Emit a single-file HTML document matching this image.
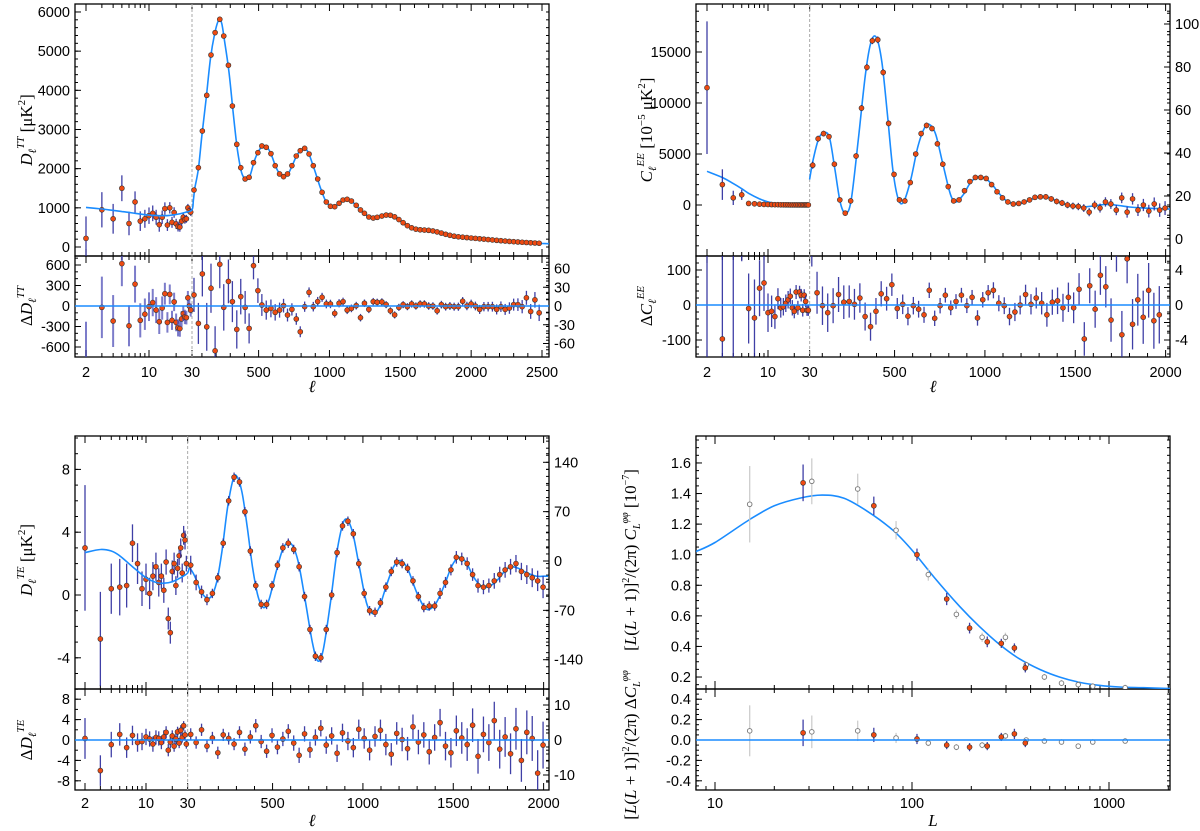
<!DOCTYPE html>
<html><head><meta charset="utf-8"><title>Planck power spectra</title>
<style>
html,body{margin:0;padding:0;background:#fff;}
svg{display:block;font-family:"Liberation Sans",sans-serif;}
.tl{font-size:14.5px;fill:#000;}
.ax{font-family:"Liberation Serif",serif;font-size:17px;fill:#000;}
</style></head>
<body>
<svg id="fig" xmlns="http://www.w3.org/2000/svg" width="1200" height="831" viewBox="0 0 1200 831">
<defs>
<clipPath id="cTTm"><rect x="75" y="4" width="474" height="252"/></clipPath>
<clipPath id="cTTr"><rect x="75" y="256" width="474" height="101"/></clipPath>
<clipPath id="cEEm"><rect x="696" y="4" width="474" height="252"/></clipPath>
<clipPath id="cEEr"><rect x="696" y="256" width="474" height="101"/></clipPath>
<clipPath id="cTEm"><rect x="75" y="436" width="474" height="253"/></clipPath>
<clipPath id="cTEr"><rect x="75" y="689" width="474" height="101"/></clipPath>
<clipPath id="cPPm"><rect x="696" y="436" width="474" height="253"/></clipPath>
<clipPath id="cPPr"><rect x="696" y="689" width="474" height="101"/></clipPath>
</defs>
<g>
<text class="ax" transform="translate(32,130) rotate(-90)" text-anchor="middle"><tspan font-style="italic">D</tspan><tspan font-size="11" dy="4" font-style="italic">ℓ</tspan><tspan font-size="11" dy="-12" font-style="italic">TT</tspan><tspan dy="8"> [μK</tspan><tspan font-size="11" dy="-7">2</tspan><tspan dy="7">]</tspan></text>
<text class="ax" transform="translate(32,306) rotate(-90)" text-anchor="middle">Δ<tspan font-style="italic">D</tspan><tspan font-size="11" dy="4" font-style="italic">ℓ</tspan><tspan font-size="11" dy="-12" font-style="italic">TT</tspan></text>
<text class="ax" x="312" y="392" text-anchor="middle" font-style="italic">ℓ</text>
<text class="ax" transform="translate(652,130) rotate(-90)" text-anchor="middle"><tspan font-style="italic">C</tspan><tspan font-size="11" dy="4" font-style="italic">ℓ</tspan><tspan font-size="11" dy="-12" font-style="italic">EE</tspan><tspan dy="8"> [10</tspan><tspan font-size="11" dy="-7">−5</tspan><tspan dy="7"> μK</tspan><tspan font-size="11" dy="-7">2</tspan><tspan dy="7">]</tspan></text>
<text class="ax" transform="translate(652,306) rotate(-90)" text-anchor="middle">Δ<tspan font-style="italic">C</tspan><tspan font-size="11" dy="4" font-style="italic">ℓ</tspan><tspan font-size="11" dy="-12" font-style="italic">EE</tspan></text>
<text class="ax" x="933" y="392" text-anchor="middle" font-style="italic">ℓ</text>
<text class="ax" transform="translate(32,560) rotate(-90)" text-anchor="middle"><tspan font-style="italic">D</tspan><tspan font-size="11" dy="4" font-style="italic">ℓ</tspan><tspan font-size="11" dy="-12" font-style="italic">TE</tspan><tspan dy="8"> [μK</tspan><tspan font-size="11" dy="-7">2</tspan><tspan dy="7">]</tspan></text>
<text class="ax" transform="translate(32,740) rotate(-90)" text-anchor="middle">Δ<tspan font-style="italic">D</tspan><tspan font-size="11" dy="4" font-style="italic">ℓ</tspan><tspan font-size="11" dy="-12" font-style="italic">TE</tspan></text>
<text class="ax" x="312" y="826" text-anchor="middle" font-style="italic">ℓ</text>
<text class="ax" font-size="15" transform="translate(636,560) rotate(-90)" text-anchor="middle">[<tspan font-style="italic">L</tspan>(<tspan font-style="italic">L</tspan> + 1)]<tspan font-size="10" dy="-7">2</tspan><tspan dy="7">/(2π) </tspan><tspan font-style="italic">C</tspan><tspan font-size="10" dy="4" font-style="italic">L</tspan><tspan font-size="10" dy="-12" font-style="italic">φφ</tspan><tspan dy="8"> [10</tspan><tspan font-size="10" dy="-7">−7</tspan><tspan dy="7">]</tspan></text>
<text class="ax" font-size="15" transform="translate(636,745) rotate(-90)" text-anchor="middle">[<tspan font-style="italic">L</tspan>(<tspan font-style="italic">L</tspan> + 1)]<tspan font-size="10" dy="-7">2</tspan><tspan dy="7">/(2π) Δ</tspan><tspan font-style="italic">C</tspan><tspan font-size="10" dy="4" font-style="italic">L</tspan><tspan font-size="10" dy="-12" font-style="italic">φφ</tspan></text>
<text class="ax" x="933" y="826" text-anchor="middle" font-style="italic">L</text>
</g>
</svg>
<script>
// ---------------- TT data ----------------
const ttLowL=[2,3,4,5,6,7,8,9,10,11,12,13,14,15,16,17,18,19,20,21,22,23,24,25,26,27,28,29];
const ttLowD=[220,950,720,1500,600,1150,660,720,800,860,760,570,760,980,560,1000,630,880,590,520,510,660,760,700,720,1000,920,890];
const ttLowErr=[560,450,380,330,300,270,250,230,210,200,190,180,170,160,150,145,140,135,130,125,120,115,110,105,100,100,95,95];
const ttLowRes=[-790,-20,-220,620,-290,320,-210,-120,-10,50,-60,-230,-30,180,-240,170,-210,60,-240,-320,-330,-190,-110,-160,-170,120,0,-60];
const ttHiL=[44,75,103,134,164,193,226,254,287,315,346,374,405,433,464,495,523,554,587,617,648,676,704,735,766,794,825,856,886,917,948,978,1007,1037,1068,1096,1125,1155,1189,1219,1247,1278,1309,1337,1370,1400,1430,1460,1490,1520,1550,1580,1610,1640,1670,1700,1730,1760,1790,1820,1850,1880,1910,1940,1970,2000,2030,2060,2090,2120,2150,2180,2210,2240,2270,2300,2330,2360,2390,2420,2450,2480];
const ttHiD=[1455,2025,2961,3872,4902,5472,5813,5387,4639,3600,2621,2025,1736,1779,2153,2408,2579,2545,2383,2076,1864,1796,1864,2076,2323,2459,2519,2374,2076,1736,1396,1149,1039,1029,1116,1200,1217,1174,1064,945,860,766,740,757,790,815,810,770,700,620,545,490,455,440,432,425,410,385,355,325,298,275,260,250,240,230,220,210,200,190,180,170,160,152,143,136,128,121,115,108,102,96];
const ttHiRes=[162,-255,470,-305,260,-656,610,-20,360,64,-343,137,-20,-328,590,225,15,-60,-35,-93,-60,5,-132,-50,-190,-377,-10,200,-10,65,127,30,30,-108,40,64,-60,-35,5,-171,40,-50,64,54,60,20,-70,-130,-20,20,-10,30,0,30,30,0,0,-70,20,-10,0,-10,-10,70,0,30,0,-50,-10,-10,-10,-50,-10,-50,-30,20,20,-10,120,-80,90,-100];
const ttHiErr=[250,300,330,350,360,360,350,340,320,300,280,260,240,220,200,180,160,140,130,120,110,100,95,90,85,80,75,72,70,68,66,64,62,60,60,58,58,56,56,55,55,54,54,53,53,52,52,52,52,52,52,53,53,54,54,55,55,56,56,57,58,59,60,61,62,63,64,66,68,70,72,74,77,80,84,88,92,97,102,108,114,120];
const ttThL=[2,3,4,5,7,10,15,20,25,30,40,50,75,100,130,160,190,220,240,260,290,320,350,380,410,440,470,500,530,555,585,620,650,680,710,740,770,800,825,850,880,910,940,970,1000,1030,1060,1090,1120,1150,1180,1210,1240,1270,1300,1330,1360,1400,1430,1460,1490,1520,1550,1580,1610,1640,1670,1700,1730,1760,1800,1850,1900,1950,2000,2100,2200,2300,2400,2500,2549];
const ttThD=[1010,970,935,905,860,815,800,830,880,950,1200,1500,2000,2850,3800,4800,5450,5800,5700,5250,4500,3450,2500,1900,1740,1830,2200,2450,2580,2560,2400,2060,1860,1800,1880,2100,2340,2480,2510,2420,2130,1800,1470,1200,1060,1030,1090,1180,1215,1185,1090,970,870,790,750,755,780,805,805,770,705,625,550,492,457,440,432,424,410,386,347,298,264,248,232,198,164,136,113,93,85];
const ttYTicks=[0,1000,2000,3000,4000,5000,6000];
const ttRYTicks=[600,300,0,-300,-600];
const ttRYRight=[60,30,0,-30,-60];
const ttXTicks=[2,10,30,500,1000,1500,2000,2500];
// ---------------- EE data ----------------
const eeLowL=[2,3,4,5,6,7,8,9,10,11,12,13,14,15,16,17,18,19,20,21,22,23,24,25,26,27,28,29];
const eeLowV=[11500,2000,700,1000,150,120,80,60,50,40,30,30,20,20,15,15,10,10,10,10,5,5,5,5,5,5,5,5];
const eeLowErr=[6500,1500,700,500,150,100,80,60,50,40,35,30,28,26,24,22,20,18,17,16,15,14,13,12,12,11,11,10];
const eeThLowL=[2,3,4,5,6,8,10,13,17,22,30];
const eeThLowV=[3300,2700,2100,1600,1150,600,300,120,50,20,10];
const hiL=[47,77,107,137,167,197,227,257,287,317,347,377,407,437,467,497,527,557,587,617,647,677,707,737,767,797,827,857,887,917,947,977,1007,1037,1067,1097,1127,1157,1187,1217,1247,1277,1307,1337,1367,1397,1427,1457,1487,1517,1547,1577,1607,1637,1667,1697,1727,1757,1787,1817,1847,1877,1907,1937,1967,1997];
const eeHiV=[3900,6500,7000,6700,4000,500,-800,400,4800,9500,13500,16100,16200,13000,8000,3000,500,400,2200,5000,7000,7800,7500,6000,4000,1800,400,500,1400,2300,2700,2700,2600,2000,1300,700,300,100,150,300,500,750,800,800,600,350,200,0,-100,-150,-300,-700,0,-300,300,100,-500,700,-700,600,-500,0,-600,100,-500,-300];
const eeHiErr=[350,300,280,260,250,250,250,260,280,300,320,330,330,320,300,280,260,250,250,260,270,280,280,270,260,250,240,240,240,250,250,250,250,250,240,240,230,230,230,230,240,250,260,270,280,290,300,320,340,360,380,400,420,440,460,480,500,520,540,560,580,600,620,640,660,680];
const eeThL=[30,50,80,110,140,170,200,230,260,300,340,370,400,430,460,490,520,550,590,630,670,700,730,770,810,840,880,920,960,1000,1040,1080,1120,1160,1200,1250,1300,1340,1380,1420,1480,1540,1600,1660,1720,1800,1880,1960,2025];
const eeThV=[2500,4500,6500,7100,6600,3500,200,-800,500,6500,13000,16000,16400,14000,9000,3500,600,300,2500,5800,7700,7800,6800,3800,1000,300,1000,2200,2750,2650,2000,1100,400,100,150,500,800,800,550,200,-100,-200,-100,50,0,-200,-300,-350,-400];
const eeResLowV=[-300,-97,-250,250,-10,-37,48,63,-22,-18,-33,18,-8,-5,5,15,25,-8,-18,37,-8,37,28,-15,28,10,-15,-15];
const eeResLowErr=[600,300,400,125,100,110,80,80,55,45,35,30,28,25,25,25,22,22,20,20,20,18,18,18,17,17,16,16];
const eeResHiL=[42,71,101,130,160,190,219,249,278,308,337,367,397,426,456,485,515,545,574,604,633,663,692,722,752,781,811,840,870,900,929,959,988,1018,1047,1077,1107,1136,1166,1195,1225,1255,1284,1314,1343,1373,1402,1432,1462,1491,1521,1550,1580,1610,1639,1669,1698,1728,1758,1787,1817,1846,1876,1906,1935,1965];
const eeResHiV=[170,35,-2,-22,-2,30,8,10,2,20,-33,-62,-18,32,18,58,-10,2,-32,-2,-12,-28,42,-38,-2,28,-8,10,28,-2,22,-37,15,35,42,5,-2,-33,-20,0,30,2,20,5,-28,8,12,-8,22,-8,45,-97,55,-12,85,52,-43,160,-85,132,-55,15,-35,42,-45,-28];
const eeResHiErr=[60,60,55,55,50,50,48,46,44,42,40,40,38,36,34,32,30,28,26,25,24,23,22,22,22,21,21,21,21,21,21,22,22,22,23,23,24,25,26,27,28,29,30,32,34,36,38,40,42,44,46,48,50,53,56,59,62,65,68,70,72,74,76,78,80,82];
const eeYTicks=[0,5000,10000,15000];
const eeYRight=[0,20,40,60,80,100];
const eeRYTicks=[100,0,-100];
const eeRYRight=[4,2,0,-2,-4];
const eeXTicks=[2,10,30,500,1000,1500,2000];
// ---------------- TE data ----------------
const teLowL=[2,3,4,5,6,7,8,9,10,11,12,13,14,15,16,17,18,19,20,21,22,23,24,25,26,27,28,29];
const teLowV=[3.0,-2.8,0.4,0.5,0.6,3.3,2.0,0.4,1.0,0.1,1.2,1.8,0.8,1.2,0.3,2.1,-1.5,-2.4,1.5,2.0,0.6,1.7,2.5,3.0,1.4,3.8,3.5,2.0];
const teLowErr=[4.0,3.0,1.6,1.8,1.4,1.2,1.3,1.1,1.0,1.0,0.9,0.9,0.9,0.8,0.8,0.8,0.7,0.7,0.7,0.7,0.6,0.6,0.6,0.6,0.6,0.6,0.6,0.5];
const teThL=[2,3,4,5,7,10,13,16,20,25,30,40,60,80,100,130,160,190,220,250,280,300,330,360,390,420,450,480,520,560,600,640,680,720,750,780,820,860,900,940,980,1020,1055,1090,1130,1170,1210,1250,1300,1350,1400,1450,1490,1530,1570,1610,1650,1690,1740,1790,1820,1860,1910,1960,2000,2025];
const teThV=[2.7,2.9,2.8,2.5,1.8,1.1,0.8,0.75,0.85,1.1,1.4,1.7,1.4,0.9,0.3,-0.15,-0.1,0.8,2.8,5.5,7.3,7.6,6.6,4.3,1.7,-0.1,-0.8,-0.3,1.5,3.0,3.3,2.2,-0.3,-3.0,-4.2,-3.5,-0.5,3.0,4.8,4.1,1.8,-0.5,-1.2,-0.8,0.6,1.8,2.2,1.6,0.1,-0.9,-0.6,0.6,1.8,2.4,2.1,1.2,0.6,0.5,0.9,1.6,1.8,1.7,1.4,1.2,1.2,1.2];
const teHiV=[1.9,0.8,0.2,-0.3,0.1,1.1,3.3,6.0,7.5,7.2,5.3,2.8,0.6,-0.6,-0.6,0.6,1.9,3.0,3.3,2.9,1.8,-0.1,-2.2,-3.9,-4.0,-2.2,0.0,2.7,4.4,4.7,3.9,2.0,0.1,-1.0,-1.1,-0.5,0.5,1.5,2.1,2.0,1.7,0.9,-0.1,-0.8,-0.7,-0.7,0.1,0.8,1.6,2.4,2.3,2.0,1.3,0.6,0.5,0.6,0.9,1.3,1.6,1.8,2.0,1.5,1.3,1.1,0.9,0.5];
const teHiErr=[0.6,0.5,0.4,0.35,0.3,0.3,0.3,0.3,0.3,0.3,0.3,0.3,0.3,0.3,0.3,0.3,0.3,0.3,0.3,0.3,0.3,0.3,0.3,0.3,0.3,0.3,0.3,0.3,0.3,0.3,0.3,0.3,0.3,0.3,0.3,0.3,0.3,0.3,0.3,0.3,0.3,0.3,0.3,0.3,0.3,0.3,0.35,0.35,0.35,0.4,0.4,0.4,0.4,0.45,0.45,0.45,0.5,0.5,0.5,0.5,0.55,0.55,0.6,0.6,0.65,0.7];
const teResLowV=[0.3,-6.0,-0.9,1.1,-1.5,0.9,-0.5,-0.3,0.6,0.2,-0.8,0.5,0.3,-0.5,0.6,1.5,-2.0,-0.4,0.8,-1.2,0.2,1.6,-0.6,1.9,0.5,2.8,1.0,-0.8];
const teResLowErr=[4,3,2.5,2.2,2.0,1.9,1.8,1.7,1.6,1.5,1.5,1.4,1.4,1.3,1.3,1.2,1.2,1.2,1.1,1.1,1.1,1.0,1.0,1.0,1.0,0.9,0.9,0.9];
const teResHiV=[1.1,-0.5,2.0,-1.2,0.4,-2.5,1.0,0.3,-0.8,1.5,-1.8,0.6,2.8,-0.3,-2.2,0.9,-1.4,0.2,1.7,-0.6,-3.0,1.2,-1.9,0.5,2.3,-1.0,0.8,-2.6,1.4,-0.2,-1.5,2.1,0.3,-2.0,0.7,1.9,-0.9,-2.8,1.3,0.1,-1.7,2.6,-0.4,1.0,-2.3,0.5,3.4,-1.2,-2.5,1.8,0.4,-0.9,2.9,-3.2,1.1,-0.5,3.8,-1.8,0.6,-2.7,2.2,-4.0,1.5,0.3,-6.5,-1.0];
const teResHiErr=[1.2,1.2,1.2,1.2,1.2,1.2,1.2,1.2,1.2,1.2,1.3,1.3,1.3,1.3,1.3,1.4,1.4,1.4,1.4,1.5,1.5,1.5,1.6,1.6,1.6,1.7,1.7,1.7,1.8,1.8,1.9,1.9,2.0,2.0,2.0,2.1,2.1,2.2,2.2,2.3,2.3,2.4,2.4,2.5,2.5,2.6,2.7,2.8,2.9,3.0,3.1,3.2,3.3,3.4,3.5,3.6,3.7,3.8,3.9,4.0,4.1,4.2,4.3,4.4,4.5,4.6];
const teYTicks=[8,4,0,-4];
const teYRight=[140,70,0,-70,-140];
const teRYTicks=[8,4,0,-4,-8];
const teRYRight=[10,0,-10];
// ---------------- lensing data ----------------
const ppRedL=[28,64,106,150,196,241,284,331,376];
const ppRedV=[1.47,1.32,1.00,0.71,0.52,0.43,0.42,0.39,0.26];
const ppRedErr=[0.12,0.06,0.04,0.04,0.035,0.035,0.03,0.03,0.03];
const ppRedRes=[0.07,0.05,0.01,-0.05,-0.07,-0.06,0.03,0.06,-0.03];
const ppRedResErr=[0.13,0.07,0.05,0.04,0.04,0.04,0.04,0.05,0.04];
const ppGreyL=[15,31,53,83,121,168,227,298,380,470,574,698,827,1208];
const ppGreyV=[1.33,1.48,1.43,1.16,0.87,0.61,0.46,0.46,0.28,0.20,0.16,0.15,0.14,0.13];
const ppGreyErr=[0.25,0.15,0.1,0.06,0.04,0.03,0.03,0.03,0.02,0.02,0.02,0.02,0.02,0.02];
const ppGreyRes=[0.09,0.08,0.09,0.02,-0.03,-0.07,-0.05,0.04,0.00,-0.01,-0.02,-0.06,-0.02,-0.01];
const ppGreyResErr=[0.25,0.16,0.1,0.05,0.03,0.03,0.03,0.03,0.02,0.02,0.02,0.02,0.02,0.02];
const ppThL=[8,10,15,20,27,35,45,60,80,100,130,175,220,280,350,445,560,710,900,1130,1500,2040];
const ppThV=[1.02,1.08,1.23,1.32,1.37,1.39,1.37,1.28,1.16,1.03,0.85,0.66,0.53,0.41,0.32,0.25,0.2,0.165,0.145,0.135,0.13,0.125];
const ppYTicks=[0.2,0.4,0.6,0.8,1.0,1.2,1.4,1.6];
const ppRYTicks=[0.4,0.2,0.0,-0.2,-0.4];
const ppXTicks=[10,100,1000];

// ---------------- rendering ----------------
const NS='http://www.w3.org/2000/svg';
const svg=document.getElementById('fig');
const BLUE='#1a8cff', BAR='#2a2a9c', PT='#ee4a12';
function mk(tag,attrs,name,parent){
  const e=document.createElementNS(NS,tag);
  for(const k in attrs) e.setAttribute(k,attrs[k]);
  
  
  (parent||svg).appendChild(e);
  return e;
}
function makeX(x2,x10,k){const d=(x10-x2)/Math.log10(5);const x30=x2+d*Math.log10(15);return l=>l<=30?x2+d*Math.log10(l/2):x30+(l-30)*k;}
const xTT=makeX(86,149,0.1417), xEE=makeX(707,768,0.1807), xTE=makeX(85,146,0.1807);
const xPP=L=>715+Math.log10(L/10)*197;
const yTT=v=>247-v*0.03917, yTTr=v=>306-v*0.06833, yTTrR=v=>306-v*0.625;
const yEE=v=>205-v*0.0102, yEEr=v=>305-v*0.35, yEER=v=>239-v*2.15, yEErR=v=>305-v*8.75;
const yTE=v=>595-v*15.7, yTEr=v=>740-v*5.1, yTER=v=>561-v*0.705, yTErR=v=>740-v*3.5;
const yPP=v=>707.6-v*152.9, yPPr=v=>740-v*102;

function smooth(pts){
  let d='M'+pts[0][0].toFixed(1)+','+pts[0][1].toFixed(1);
  for(let i=0;i<pts.length-1;i++){
    const p0=pts[Math.max(0,i-1)],p1=pts[i],p2=pts[i+1],p3=pts[Math.min(pts.length-1,i+2)];
    const c1=[p1[0]+(p2[0]-p0[0])/6,p1[1]+(p2[1]-p0[1])/6];
    const c2=[p2[0]-(p3[0]-p1[0])/6,p2[1]-(p3[1]-p1[1])/6];
    d+=' C'+c1[0].toFixed(1)+','+c1[1].toFixed(1)+' '+c2[0].toFixed(1)+','+c2[1].toFixed(1)+' '+p2[0].toFixed(1)+','+p2[1].toFixed(1);
  }
  return d;
}
function theory(g,ls,vs,xf,yf,name){
  const pts=ls.map((l,i)=>[xf(l),yf(vs[i])]);
  mk('path',{d:smooth(pts),fill:'none',stroke:BLUE,'stroke-width':1.6},name,g);
}
function points(g,ls,vs,errs,xf,yf,name,opt){
  opt=opt||{};
  ls.forEach((l,i)=>{
    const x=xf(l),y=yf(vs[i]);
    if(errs){
      const e=errs[i];
      mk('line',{x1:x,x2:x,y1:yf(vs[i]-e),y2:yf(vs[i]+e),stroke:opt.bar||BAR,'stroke-width':opt.bw||1.3,'stroke-opacity':opt.bo||0.9},name+'-errorbar',g);
    }
    if(opt.open){
      mk('circle',{cx:x,cy:y,r:2.3,fill:'#fff',stroke:'#777','stroke-width':0.9},name+'-point',g);
    } else {
      mk('circle',{cx:x,cy:y,r:2.5,fill:PT,stroke:'#333','stroke-width':0.6},name+'-point',g);
    }
  });
}
function zeroLine(g,x0,x1,y){mk('line',{x1:x0,x2:x1,y1:y,y2:y,stroke:BLUE,'stroke-width':1.6},'zero-line',g);}
function dash30(g,xf,y0,y1){const x=xf(30);mk('line',{x1:x,x2:x,y1:y0,y2:y1,stroke:'#aaa','stroke-width':1,'stroke-dasharray':'3,2'},'ell-30-divider',g);}
function group(name,clip){const g=mk('g',clip?{'clip-path':'url(#'+clip+')'}:{},name);return g;}
function tick(g,x1,y1,x2,y2){mk('line',{x1:x1,y1:y1,x2:x2,y2:y2,stroke:'#000','stroke-width':1},'tick',g);}
function label(g,x,y,txt,anchor,name){const t=mk('text',{x:x,y:y,'text-anchor':anchor,class:'tl'},name,g);t.textContent=txt;return t;}
function fmt(v){return (v<0?'-':'')+Math.abs(v);}
function inside(y,b){return y>=b[0]-0.5&&y<=b[1]+0.5;}
function yAxis(g,x0,x1,yf,ticks,minorStep,lo,hi,labelsLeft,fmtf,name,b){
  for(let v=lo;v<=hi+1e-9;v+=minorStep){const y=yf(v);if(!inside(y,b))continue;tick(g,x0,y,x0+3,y);tick(g,x1,y,x1-3,y);}
  ticks.forEach(v=>{const y=yf(v);tick(g,x0,y,x0+6,y);
    if(labelsLeft) label(g,x0-5,y+5,fmtf?fmtf(v):fmt(v),'end',name+'-tick-label');});
}
function rightAxis(g,x1,yf,ticks,minorStep,lo,hi,name,b,labelled){
  for(let v=lo;v<=hi+1e-9;v+=minorStep){const y=yf(v);if(!inside(y,b))continue;tick(g,x1,y,x1-3,y);}
  ticks.forEach(v=>{const y=yf(v);tick(g,x1,y,x1-6,y);
    if(labelled===undefined||labelled.indexOf(v)>=0) label(g,x1+5,y+5,fmt(v),'start',name+'-tick-label');});
}
function xAxisHybrid(g,xf,ys,lmax,labels,labY,name){
  const minors=[3,4,5,6,7,8,9,20];
  const majors=[2,10,30];
  for(let l=100;l<=lmax;l+=100){ (l%500===0?majors:minors).push(l); }
  ys.forEach(([y,dir])=>{
    majors.forEach(l=>tick(g,xf(l),y,xf(l),y+dir*7));
    minors.forEach(l=>tick(g,xf(l),y,xf(l),y+dir*4));
  });
  labels.forEach(l=>label(g,xf(l),labY,String(l),'middle',name+'-tick-label'));
}
function frame(g,x0,y0,x1,y1,name){mk('rect',{x:x0,y:y0,width:x1-x0,height:y1-y0,fill:'none',stroke:'#000','stroke-width':1.3},name,g);}

// ===== TT panel =====
(function(){
  const g=group('tt-panel');
  const m=group('tt-main-plot','cTTm');
  dash30(m,xTT,4,256);
  points(m,ttLowL,ttLowD,ttLowErr,xTT,yTT,'tt-lowell',{bar:BAR});
  theory(m,ttThL,ttThD,xTT,yTT,'tt-theory-curve');
  points(m,ttHiL,ttHiD,null,xTT,yTT,'tt-highell');
  const r=group('tt-residual-plot','cTTr');
  dash30(r,xTT,256,357);
  points(r,ttLowL,ttLowRes,ttLowErr,xTT,yTTr,'tt-residual-lowell',{bar:'#5050b8',bw:2,bo:0.75});
  points(r,ttHiL,ttHiRes,ttHiErr,xTT,yTTr,'tt-residual-highell',{bar:BAR,bw:1.3});
  zeroLine(r,75,549,yTTr(0));
  frame(g,75,4,549,256,'tt-main-frame');frame(g,75,256,549,357,'tt-residual-frame');
  yAxis(g,75,549,yTT,ttYTicks,200,0,6000,true,null,'tt-y',[4,256]);
  yAxis(g,75,549,yTTr,ttRYTicks,100,-700,700,true,null,'tt-residual-y',[256,357]);
  rightAxis(g,549,yTTrR,ttRYRight,10,-70,70,'tt-residual-right-y',[256,357]);
  xAxisHybrid(g,xTT,[[4,1],[256,-1],[256,1],[357,-1]],2500,ttXTicks,377,'tt-x');
})();
// ===== EE panel =====
(function(){
  const g=group('ee-panel');
  const m=group('ee-main-plot','cEEm');
  dash30(m,xEE,4,256);
  theory(m,eeThLowL,eeThLowV,xEE,yEE,'ee-theory-curve-lowell');
  theory(m,eeThL,eeThV,xEE,yEE,'ee-theory-curve');
  points(m,eeLowL,eeLowV,eeLowErr,xEE,yEE,'ee-lowell');
  points(m,hiL,eeHiV,eeHiErr,xEE,yEE,'ee-highell');
  const r=group('ee-residual-plot','cEEr');
  dash30(r,xEE,256,357);
  points(r,eeLowL,eeResLowV,eeResLowErr,xEE,yEEr,'ee-residual-lowell');
  points(r,eeResHiL,eeResHiV,eeResHiErr,xEE,yEEr,'ee-residual-highell');
  zeroLine(r,696,1170,yEEr(0));
  frame(g,696,4,1170,256,'ee-main-frame');frame(g,696,256,1170,357,'ee-residual-frame');
  yAxis(g,696,1170,yEE,eeYTicks,1000,-4000,19000,true,null,'ee-y',[4,256]);
  rightAxis(g,1170,yEER,eeYRight,5,0,105,'ee-right-y',[4,256]);
  yAxis(g,696,1170,yEEr,eeRYTicks,20,-140,140,true,null,'ee-residual-y',[256,357]);
  rightAxis(g,1170,yEErR,eeRYRight,1,-5,5,'ee-residual-right-y',[256,357],[4,0,-4]);
  xAxisHybrid(g,xEE,[[4,1],[256,-1],[256,1],[357,-1]],2000,eeXTicks,377,'ee-x');
})();
// ===== TE panel =====
(function(){
  const g=group('te-panel');
  const m=group('te-main-plot','cTEm');
  dash30(m,xTE,436,689);
  points(m,teLowL,teLowV,teLowErr,xTE,yTE,'te-lowell');
  theory(m,teThL,teThV,xTE,yTE,'te-theory-curve');
  points(m,hiL,teHiV,teHiErr,xTE,yTE,'te-highell');
  const r=group('te-residual-plot','cTEr');
  dash30(r,xTE,689,790);
  points(r,teLowL,teResLowV,teResLowErr,xTE,yTEr,'te-residual-lowell');
  points(r,hiL,teResHiV,teResHiErr,xTE,yTEr,'te-residual-highell');
  zeroLine(r,75,549,yTEr(0));
  frame(g,75,436,549,689,'te-main-frame');frame(g,75,689,549,790,'te-residual-frame');
  yAxis(g,75,549,yTE,teYTicks,1,-6,10,true,null,'te-y',[436,689]);
  rightAxis(g,549,yTER,teYRight,10,-150,190,'te-right-y',[436,689]);
  yAxis(g,75,549,yTEr,teRYTicks,2,-8,8,true,null,'te-residual-y',[689,790]);
  rightAxis(g,549,yTErR,teRYRight,2,-12,12,'te-residual-right-y',[689,790]);
  xAxisHybrid(g,xTE,[[436,1],[689,-1],[689,1],[790,-1]],2000,eeXTicks,808,'te-x');
})();
// ===== lensing panel =====
(function(){
  const g=group('lensing-panel');
  const m=group('lensing-main-plot','cPPm');
  theory(m,ppThL,ppThV,xPP,yPP,'lensing-theory-curve');
  points(m,ppGreyL,ppGreyV,ppGreyErr,xPP,yPP,'lensing-grey',{bar:'#c8c8c8',bw:1.3,open:true});
  points(m,ppRedL,ppRedV,ppRedErr,xPP,yPP,'lensing-red',{bar:BAR});
  const r=group('lensing-residual-plot','cPPr');
  points(r,ppGreyL,ppGreyRes,ppGreyResErr,xPP,yPPr,'lensing-residual-grey',{bar:'#c8c8c8',bw:1.3,open:true});
  points(r,ppRedL,ppRedRes,ppRedResErr,xPP,yPPr,'lensing-residual-red',{bar:BAR});
  zeroLine(r,696,1170,yPPr(0));
  frame(g,696,436,1170,689,'lensing-main-frame');frame(g,696,689,1170,790,'lensing-residual-frame');
  const f1=v=>v.toFixed(1);
  yAxis(g,696,1170,yPP,ppYTicks,0.05,0.15,1.75,true,f1,'lensing-y',[436,689]);
  yAxis(g,696,1170,yPPr,ppRYTicks,0.05,-0.45,0.45,true,f1,'lensing-residual-y',[689,790]);
  const minors=[8,9,20,30,40,50,60,70,80,90,200,300,400,500,600,700,800,900,2000];
  [[436,1],[689,-1],[689,1],[790,-1]].forEach(([y,dir])=>{
    ppXTicks.forEach(L=>tick(g,xPP(L),y,xPP(L),y+dir*8));
    minors.forEach(L=>tick(g,xPP(L),y,xPP(L),y+dir*4));
  });
  ppXTicks.forEach(L=>label(g,xPP(L),808,String(L),'middle','lensing-x-tick-label'));
})();
</script>
</body></html>
